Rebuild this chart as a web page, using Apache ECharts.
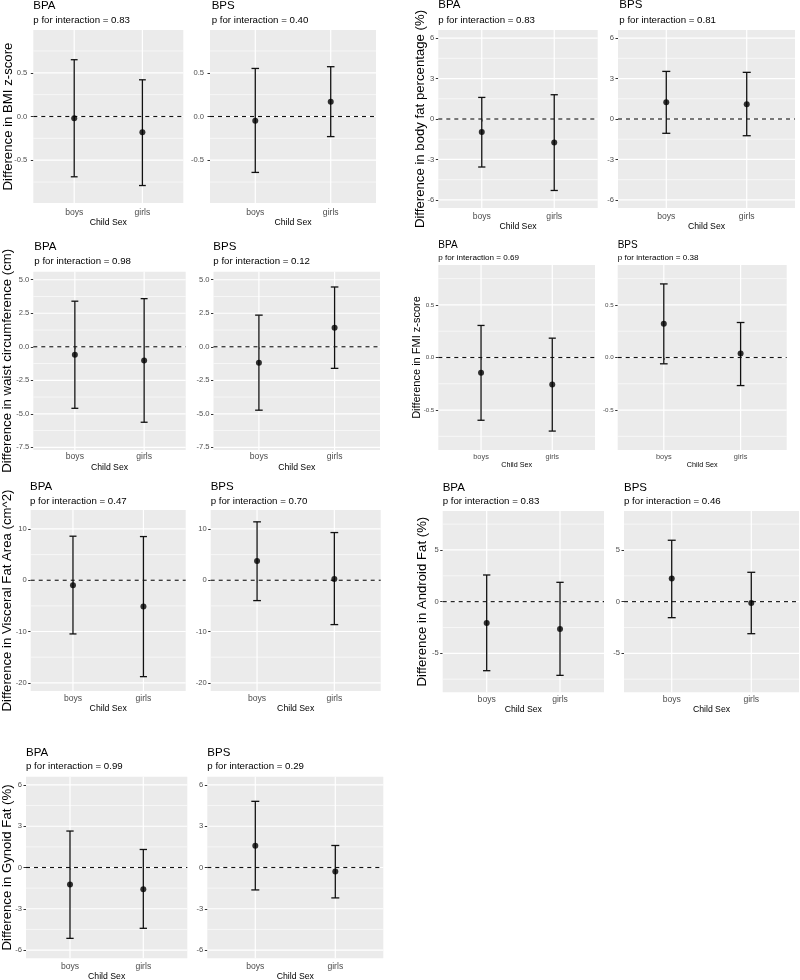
<!DOCTYPE html>
<html><head><meta charset="utf-8">
<script src="https://cdn.jsdelivr.net/npm/echarts@6/dist/echarts.min.js"></script>
<style>html,body{margin:0;padding:0;background:#fff}#c{width:800px;height:980px}</style>
</head><body><div id="c"></div>
<script>
// ---------------- DATA ----------------
const categories = ['boys', 'girls'];
const exposures = ['BPA', 'BPS'];
const xAxisTitle = 'Child Sex';
const outcomeTitles = [
  'Difference in BMI z-score',
  'Difference in body fat percentage (%)',
  'Difference in waist circumference (cm)',
  'Difference in FMI z-score',
  'Difference in Visceral Fat Area (cm^2)',
  'Difference in Android Fat (%)',
  'Difference in Gynoid Fat (%)'
];
const pBPA = ['0.83', '0.83', '0.98', '0.69', '0.47', '0.83', '0.99'];
const pBPS = ['0.40', '0.81', '0.12', '0.38', '0.70', '0.46', '0.29'];

// estimates [boys, girls]
const estBPA = [[-0.02, -0.18], [-0.96, -1.75], [-0.60, -1.02], [-0.146, -0.257], [-0.98, -5.14], [-2.06, -2.65], [-1.24, -1.58]];
const loBPA  = [[-0.69, -0.79], [-3.56, -5.30], [-4.59, -5.63], [-0.597, -0.70], [-10.47, -18.8], [-6.68, -7.13], [-5.15, -4.42]];
const hiBPA  = [[0.65, 0.42],   [1.60, 1.80],   [3.40, 3.59],   [0.305, 0.184],  [8.59, 8.52],    [2.58, 1.87],   [2.65, 1.31]];
const estBPS = [[-0.05, 0.17],  [1.24, 1.09],   [-1.19, 1.41],  [0.32, 0.038],   [3.77, 0.26],    [2.23, -0.13],  [1.58, -0.29]];
const loBPS  = [[-0.64, -0.23], [-1.06, -1.24], [-4.73, -1.61], [-0.06, -0.267], [-3.97, -8.65],  [-1.55, -3.10], [-1.63, -2.21]];
const hiBPS  = [[0.55, 0.57],   [3.53, 3.46],   [2.36, 4.46],   [0.70, 0.333],   [11.39, 9.30],   [5.94, 2.84],   [4.81, 1.60]];

// axis scales
const yRanges = [[-0.99, 0.99], [-6.6, 6.6], [-7.7, 5.6], [-0.88, 0.88], [-21.6, 13.7], [-8.77, 8.77], [-6.6, 6.6]];
const yMajor = [[-0.5, 0, 0.5], [-6, -3, 0, 3, 6], [-7.5, -5, -2.5, 0, 2.5, 5], [-0.5, 0, 0.5], [-20, -10, 0, 10], [-5, 0, 5], [-6, -3, 0, 3, 6]];
const yMajorLabels = [['-0.5', '0.0', '0.5'], ['-6', '-3', '0', '3', '6'], ['-7.5', '-5.0', '-2.5', '0.0', '2.5', '5.0'], ['-0.5', '0.0', '0.5'], ['-20', '-10', '0', '10'], ['-5', '0', '5'], ['-6', '-3', '0', '3', '6']];
const yMinor = [[-0.75, -0.25, 0.25, 0.75], [-4.5, -1.5, 1.5, 4.5], [-6.25, -3.75, -1.25, 1.25, 3.75], [-0.75, -0.25, 0.25, 0.75], [-15, -5, 5], [-7.5, -2.5, 2.5, 7.5], [-4.5, -1.5, 1.5, 4.5]];
const xMin = 0.4, xMax = 2.6, capWidth = 0.1;

// ---------------- LAYOUT ----------------
const big = {title: 11.5, p: 9.7, yTick: 7.6, xTick: 8.6, xName: 8.7, yTitle: 13.2};
const small = {title: 10, p: 8.1, yTick: 6.2, xTick: 7.4, xName: 7.2, yTitle: 11};
const layout = [
  {bpa: [33.3, 30, 183.3, 203], bps: [210, 30, 376, 203], tY: 5.5, pY: 20, tx: [33.3, 211.7], yTX: 8, lm: 5, ng: 15.6, ylm: 6, f: big},
  {bpa: [438.3, 30, 597.7, 208], bps: [618, 30, 795, 208], tY: 5.3, pY: 20.7, tx: [438.3, 619.3], yTX: 420, lm: 4, ng: 14.3, ylm: 4, f: big},
  {bpa: [33.3, 271.7, 185.7, 450], bps: [213.5, 271.7, 380, 450], tY: 246.7, pY: 261.7, tx: [34.3, 213.3], yTX: 7, lm: 2, ng: 13, ylm: 4, f: big},
  {bpa: [438.3, 265, 595, 450], bps: [617.7, 265, 786.7, 450], tY: 245, pY: 257.3, tx: [438.3, 617.7], yTX: 417, lm: 3.3, ng: 11.7, ylm: 4, f: small},
  {bpa: [30.7, 510, 185.7, 691], bps: [210.7, 510, 380.7, 691], tY: 486.7, pY: 501.3, tx: [30, 210.7], yTX: 7, lm: 3, ng: 13, ylm: 4, f: big},
  {bpa: [442.7, 511, 604, 692.3], bps: [624, 511, 799, 692.3], tY: 488.3, pY: 501.7, tx: [442.7, 624], yTX: 422.5, lm: 3, ng: 13, ylm: 4, f: big},
  {bpa: [26, 776.7, 187.3, 958.3], bps: [207.3, 776.7, 383.3, 958.3], tY: 753.3, pY: 766.7, tx: [26, 207.3], yTX: 7, lm: 3.7, ng: 13, ylm: 4, f: big}
];

const FONT = '"Liberation Sans", Arial, Helvetica, sans-serif';
const grids = [], xAxes = [], yAxes = [], series = [], graphics = [];
let k = 0;

outcomeTitles.forEach((ot, i) => {
  const L = layout[i];
  const F = L.f;
  const estArr = [estBPA[i], estBPS[i]];
  const loArr = [loBPA[i], loBPS[i]];
  const hiArr = [hiBPA[i], hiBPS[i]];
  const pArr = [pBPA[i], pBPS[i]];
  const r0 = L.bpa;
  graphics.push({
    type: 'text', x: L.yTX, y: (r0[1] + r0[3]) / 2, rotation: Math.PI / 2,
    style: {text: ot, fill: '#000', fontSize: F.yTitle, fontFamily: FONT, textAlign: 'center', textVerticalAlign: 'middle', align: 'center', verticalAlign: 'middle'}
  });
  exposures.forEach((ex, j) => {
    const r = j === 0 ? L.bpa : L.bps;
    graphics.push({type: 'text', x: L.tx[j], y: L.tY,
      style: {text: ex, fill: '#000', fontSize: F.title, fontFamily: FONT, textAlign: 'left', textVerticalAlign: 'middle', align: 'left', verticalAlign: 'middle'}});
    graphics.push({type: 'text', x: L.tx[j], y: L.pY,
      style: {text: 'p for interaction = ' + pArr[j], fill: '#000', fontSize: F.p, fontFamily: FONT, textAlign: 'left', textVerticalAlign: 'middle', align: 'left', verticalAlign: 'middle'}});

    grids.push({left: r[0], top: r[1], width: r[2] - r[0], height: r[3] - r[1], show: true,
      backgroundColor: '#EBEBEB', borderWidth: 0, containLabel: false, outerBoundsMode: 'none'});
    xAxes.push({
      gridIndex: k, type: 'value', min: xMin, max: xMax,
      name: xAxisTitle, nameLocation: 'middle', nameGap: L.ng,
      nameTextStyle: {color: '#000', fontSize: F.xName, fontFamily: FONT},
      axisLine: {show: false},
      axisTick: {show: true, customValues: [1, 2], length: 2.5, lineStyle: {color: '#333', width: 1}},
      axisLabel: {show: true, customValues: [1, 2], formatter: v => categories[Math.round(v) - 1],
        margin: L.lm, fontSize: F.xTick, color: '#4D4D4D', fontFamily: FONT},
      splitLine: {show: false}
    });
    const majors = yMajor[i], labs = yMajorLabels[i];
    yAxes.push({
      gridIndex: k, type: 'value', min: yRanges[i][0], max: yRanges[i][1],
      axisLine: {show: false},
      axisTick: {show: true, customValues: majors, length: 2.5, lineStyle: {color: '#333', width: 1}},
      axisLabel: {show: true, customValues: majors, margin: L.ylm, fontSize: F.yTick, color: '#4D4D4D', fontFamily: FONT,
        formatter: v => { const idx = majors.findIndex(m => Math.abs(m - v) < 1e-6); return idx >= 0 ? labs[idx] : ''; }},
      splitLine: {show: false}
    });
    // horizontal grid lines (major + minor)
    const gl = majors.map(v => ({value: [v, 1]})).concat(yMinor[i].map(v => ({value: [v, 0]})));
    series.push({
      type: 'custom', xAxisIndex: k, yAxisIndex: k, z: 1, silent: true, data: gl,
      renderItem: (params, api) => {
        const v = api.value(0);
        const p1 = api.coord([xMin, v]), p2 = api.coord([xMax, v]);
        return {type: 'line', shape: {x1: p1[0], y1: p1[1], x2: p2[0], y2: p2[1]},
          style: {stroke: '#FFFFFF', lineWidth: api.value(1) ? 1.2 : 0.6}};
      }
    });
    // vertical grid lines at categories
    const yr = yRanges[i];
    series.push({
      type: 'custom', xAxisIndex: k, yAxisIndex: k, z: 1, silent: true, data: [[1], [2]],
      renderItem: (params, api) => {
        const x = api.value(0);
        const p1 = api.coord([x, yr[0]]), p2 = api.coord([x, yr[1]]);
        return {type: 'line', shape: {x1: p1[0], y1: p1[1], x2: p2[0], y2: p2[1]},
          style: {stroke: '#FFFFFF', lineWidth: 1.2}};
      }
    });
    // zero reference line
    series.push({
      type: 'custom', xAxisIndex: k, yAxisIndex: k, z: 2, silent: true, data: [[0]],
      renderItem: (params, api) => {
        const v = api.value(0);
        const p1 = api.coord([xMin, v]), p2 = api.coord([xMax, v]);
        return {type: 'line', shape: {x1: p1[0], y1: p1[1], x2: p2[0], y2: p2[1]},
          style: {stroke: '#111', lineWidth: 1.1, lineDash: [4, 4]}};
      }
    });
    // error bars
    const eb = categories.map((c, ci) => [ci + 1, loArr[j][ci], hiArr[j][ci]]);
    series.push({
      type: 'custom', xAxisIndex: k, yAxisIndex: k, z: 3, silent: true, data: eb,
      encode: {x: 0, y: [1, 2]},
      renderItem: (params, api) => {
        const x = api.value(0);
        const top = api.coord([x, api.value(2)]), bot = api.coord([x, api.value(1)]);
        const half = api.size([capWidth, 0])[0] / 2;
        const st = {stroke: '#111', lineWidth: 1.3};
        return {type: 'group', children: [
          {type: 'line', shape: {x1: top[0], y1: top[1], x2: bot[0], y2: bot[1]}, style: st},
          {type: 'line', shape: {x1: top[0] - half, y1: top[1], x2: top[0] + half, y2: top[1]}, style: st},
          {type: 'line', shape: {x1: bot[0] - half, y1: bot[1], x2: bot[0] + half, y2: bot[1]}, style: st}
        ]};
      }
    });
    // points
    series.push({
      type: 'scatter', xAxisIndex: k, yAxisIndex: k, z: 4, silent: true,
      symbol: 'circle', symbolSize: 6, itemStyle: {color: '#000'},
      data: categories.map((c, ci) => [ci + 1, estArr[j][ci]])
    });
    k++;
  });
});

const chart = echarts.init(document.getElementById('c'), null, {renderer: 'canvas'});
chart.setOption({
  animation: false,
  backgroundColor: '#FFFFFF',
  textStyle: {fontFamily: FONT},
  grid: grids, xAxis: xAxes, yAxis: yAxes, series: series, graphic: graphics
});
</script></body></html>
